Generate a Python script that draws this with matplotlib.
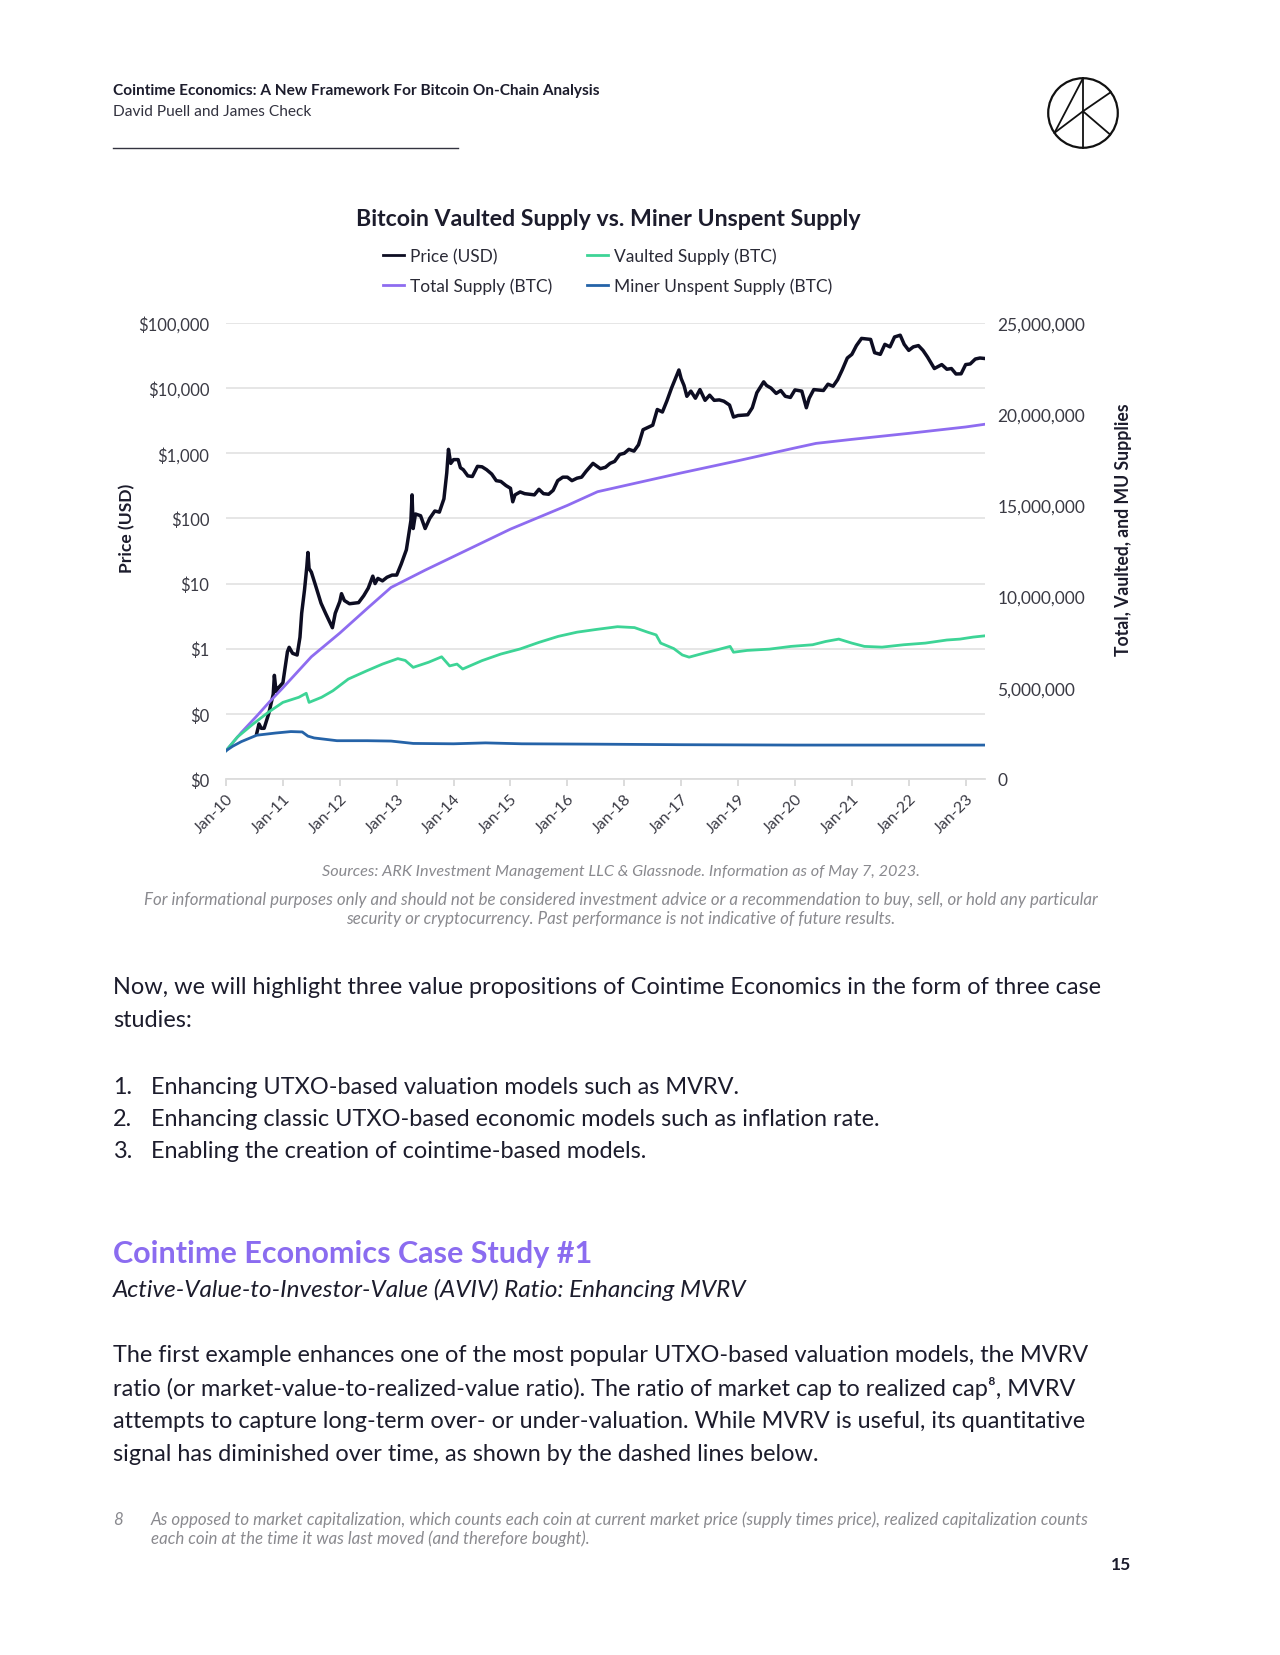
import matplotlib
matplotlib.use('Agg')
import matplotlib.pyplot as plt
from matplotlib.lines import Line2D
from matplotlib.patches import Circle
import matplotlib.ticker as mticker

plt.rcParams['font.family'] = ['Lato', 'DejaVu Sans']

W, H = 1280, 1656

# ---------------- data ----------------
price_t = [2010.54, 2010.58, 2010.62, 2010.67, 2010.75, 2010.83, 2010.85, 2010.88, 2010.92,
           2011.0, 2011.08, 2011.11, 2011.17, 2011.25, 2011.30, 2011.33, 2011.38, 2011.42, 2011.44,
           2011.46, 2011.50, 2011.58, 2011.67, 2011.75, 2011.83, 2011.87, 2011.92,
           2012.0, 2012.03, 2012.08, 2012.17, 2012.25, 2012.33, 2012.42, 2012.5, 2012.58, 2012.62,
           2012.67, 2012.75, 2012.83, 2012.92,
           2013.0, 2013.08, 2013.17, 2013.25, 2013.27, 2013.29, 2013.33, 2013.42, 2013.5, 2013.58,
           2013.67, 2013.75, 2013.83, 2013.88, 2013.91, 2013.95,
           2014.0, 2014.08, 2014.12, 2014.17, 2014.25, 2014.33, 2014.42, 2014.5, 2014.58, 2014.67,
           2014.75, 2014.83, 2014.92,
           2015.0, 2015.04, 2015.08, 2015.17, 2015.25, 2015.33, 2015.42, 2015.5, 2015.58, 2015.67,
           2015.75, 2015.83, 2015.92,
           2016.0, 2016.08, 2016.17, 2016.25, 2016.33, 2016.45, 2016.5, 2016.58, 2016.67, 2016.75,
           2016.83, 2016.92,
           2017.0, 2017.08, 2017.17, 2017.25, 2017.33, 2017.42, 2017.5, 2017.58, 2017.67, 2017.75,
           2017.83, 2017.96,
           2018.0, 2018.05, 2018.1, 2018.17, 2018.25, 2018.33, 2018.42, 2018.5, 2018.58, 2018.67,
           2018.75, 2018.85, 2018.92,
           2019.0, 2019.17, 2019.25, 2019.33, 2019.45, 2019.5, 2019.58, 2019.67, 2019.75, 2019.83,
           2019.92,
           2020.0, 2020.12, 2020.2, 2020.25, 2020.33, 2020.5, 2020.58, 2020.67, 2020.75, 2020.83,
           2020.92,
           2021.0, 2021.08, 2021.17, 2021.25, 2021.33, 2021.4, 2021.5, 2021.58, 2021.67, 2021.75,
           2021.85, 2021.92,
           2022.0, 2022.08, 2022.17, 2022.25, 2022.33, 2022.45, 2022.58, 2022.67, 2022.75, 2022.83,
           2022.92,
           2023.0, 2023.08, 2023.17, 2023.25, 2023.34]
price_usd = [0.05, 0.07, 0.06, 0.06, 0.10, 0.20, 0.39, 0.22, 0.25,
             0.30, 0.90, 1.05, 0.85, 0.80, 1.5, 3.5, 8.0, 18, 30,
             17, 15, 9, 5, 3.5, 2.5, 2.1, 3.5,
             5.3, 7, 5.5, 4.9, 5.0, 5.1, 6.5, 8.5, 13, 10,
             12, 11, 12.5, 13.5,
             13.5, 20, 33, 93, 230, 70, 117, 110, 70, 100,
             130, 125, 200, 500, 1150, 700,
             800, 800, 600, 560, 450, 440, 630, 620, 560, 480,
             380, 370, 320,
             290, 180, 230, 255, 240, 235, 230, 280, 240, 235,
             270, 380, 430,
             430, 380, 415, 430, 530, 700, 650, 580, 610, 700,
             750, 960,
             1000, 1150, 1080, 1350, 2300, 2500, 2700, 4700, 4300, 6400,
             10000, 19000,
             14000, 11000, 7500, 9000, 7000, 9500, 6500, 7800, 6500, 6600,
             6300, 5500, 3600,
             3800, 3900, 5000, 8500, 12500, 11000, 10000, 8300, 9200, 7500,
             7200,
             9400, 9000, 5000, 7000, 9500, 9200, 11500, 10700, 13500, 19000,
             29000,
             33000, 45000, 58000, 57000, 56000, 35000, 33000, 47000, 43000, 61000,
             65000, 47000,
             38000, 43000, 45000, 38000, 30000, 20000, 23000, 19500, 20000, 16500,
             16600,
             23000, 23500, 28000, 29000, 28500]

supply_t = [2010.0, 2010.27, 2010.54, 2010.77, 2011.0, 2011.5, 2012.0, 2012.5, 2012.9,
            2013.5, 2014.0, 2015.0, 2016.0, 2016.53, 2017.0, 2018.0, 2019.0, 2020.0, 2020.37,
            2021.0, 2022.0, 2023.0, 2023.34]
total_supply = [1.55e6, 2.55e6, 3.45e6, 4.25e6, 5.0e6, 6.7e6, 8.0e6, 9.4e6, 10.5e6,
                11.45e6, 12.2e6, 13.7e6, 15.0e6, 15.75e6, 16.08e6, 16.78e6, 17.45e6, 18.15e6, 18.4e6,
                18.62e6, 18.95e6, 19.3e6, 19.45e6]

vault_t = [2010.0, 2010.2, 2010.47, 2010.74, 2011.0, 2011.28, 2011.41, 2011.46, 2011.68, 2011.88,
           2012.15, 2012.48, 2012.75, 2013.02, 2013.15, 2013.29, 2013.56, 2013.79, 2013.93, 2014.06,
           2014.16, 2014.5, 2014.83, 2015.17, 2015.5, 2015.84, 2016.17, 2016.51, 2016.88, 2017.18,
           2017.41, 2017.56, 2017.64, 2017.87, 2018.02, 2018.14, 2018.4, 2018.63, 2018.86, 2018.92,
           2019.16, 2019.55, 2019.93, 2020.31, 2020.54, 2020.77, 2021.0, 2021.22, 2021.53, 2021.91,
           2022.29, 2022.67, 2022.9, 2023.13, 2023.34]
vaulted_supply = [1.55e6, 2.3e6, 3.0e6, 3.65e6, 4.2e6, 4.48e6, 4.7e6, 4.2e6, 4.48e6, 4.84e6,
                  5.48e6, 5.94e6, 6.3e6, 6.6e6, 6.5e6, 6.12e6, 6.4e6, 6.7e6, 6.2e6, 6.3e6,
                  6.03e6, 6.49e6, 6.85e6, 7.13e6, 7.49e6, 7.82e6, 8.05e6, 8.2e6, 8.35e6, 8.3e6,
                  8.05e6, 7.9e6, 7.45e6, 7.15e6, 6.8e6, 6.68e6, 6.9e6, 7.08e6, 7.27e6, 6.95e6,
                  7.05e6, 7.12e6, 7.27e6, 7.36e6, 7.54e6, 7.67e6, 7.45e6, 7.27e6, 7.23e6, 7.36e6,
                  7.45e6, 7.62e6, 7.67e6, 7.78e6, 7.85e6]

miner_t = [2010.0, 2010.12, 2010.27, 2010.54, 2010.87, 2011.14, 2011.34, 2011.44, 2011.55,
           2011.95, 2012.48, 2012.9, 2013.29, 2014.0, 2014.56, 2015.2, 2016.5, 2018.0, 2020.0,
           2022.0, 2023.34]
miner_unspent = [1.55e6, 1.8e6, 2.05e6, 2.4e6, 2.52e6, 2.6e6, 2.58e6, 2.35e6, 2.25e6,
                 2.1e6, 2.1e6, 2.08e6, 1.95e6, 1.93e6, 1.98e6, 1.93e6, 1.91e6, 1.88e6, 1.86e6,
                 1.86e6, 1.86e6]

xtick_years = [2010, 2011, 2012, 2013, 2014, 2015, 2016, 2017, 2018, 2019, 2020, 2021, 2022, 2023]
xtick_labels = ['Jan-10', 'Jan-11', 'Jan-12', 'Jan-13', 'Jan-14', 'Jan-15', 'Jan-16', 'Jan-18',
                'Jan-17', 'Jan-19', 'Jan-20', 'Jan-21', 'Jan-22', 'Jan-23']
price_ticks = [1e-2, 1e-1, 1, 10, 100, 1e3, 1e4, 1e5]
price_tick_labels = ['$0', '$0', '$1', '$10', '$100', '$1,000', '$10,000', '$100,000']
supply_ticks = [0, 5e6, 10e6, 15e6, 20e6, 25e6]
supply_tick_labels = ['0', '5,000,000', '10,000,000', '15,000,000', '20,000,000', '25,000,000']

C_PRICE = '#0d0d22'
C_TOTAL = '#8e6cf0'
C_VAULT = '#3dd496'
C_MINER = '#2563a8'
C_TEXT = '#1c1c2c'
C_GRAY = '#8a8a8f'


def fx(px):
    return px / W


def fy(py):
    return 1 - py / H


fig = plt.figure(figsize=(W / 100, H / 100), dpi=100)
fig.patch.set_facecolor('white')

# ---------------- page header ----------------
fig.text(fx(113), fy(91), 'Cointime Economics: A New Framework For Bitcoin On-Chain Analysis',
         fontsize=11.1, weight='bold', color=C_TEXT, ha='left', va='center')
fig.text(fx(113), fy(112), 'David Puell and James Check', fontsize=11.2, color='#333340',
         ha='left', va='center')
fig.add_artist(Line2D([fx(113), fx(458)], [fy(149), fy(149)], color='#333340', lw=1.0))

# logo
lax = fig.add_axes([fx(1083 - 40), fy(114 + 40), 80 / W, 80 / H])
lax.set_xlim(-1.15, 1.15)
lax.set_ylim(-1.15, 1.15)
lax.set_aspect('equal')
lax.axis('off')
lax.add_patch(Circle((0, 0), 1.0, fill=False, lw=1.6, color='#111'))
lk = dict(color='#111', lw=1.3)
lax.plot([0, 0], [1, -1], **lk)
lax.plot([0, -0.82], [1, -0.57], **lk)
lax.plot([-0.82, 0.0], [-0.57, 0.05], **lk)
lax.plot([0.0, 0.8], [0.05, 0.6], **lk)
lax.plot([0.0, 0.78], [0.05, -0.62], **lk)

# ---------------- chart ----------------
fig.text(fx(608), fy(220), 'Bitcoin Vaulted Supply vs. Miner Unspent Supply', fontsize=16.7,
         weight='bold', color=C_TEXT, ha='center', va='center')

ax = fig.add_axes([fx(226), fy(780), 759 / W, 456 / H])
ax.set_yscale('log')
ax.set_ylim(1e-2, 1e5)
ax.set_xlim(2010, 2023.34)
ax.plot(price_t, price_usd, color=C_PRICE, lw=2.5, solid_joinstyle='round')
ax.set_yticks(price_ticks)
ax.set_yticklabels(price_tick_labels)
ax.yaxis.set_minor_locator(mticker.NullLocator())
ax.grid(axis='y', color='#e4e4e4', lw=1.3)
ax.set_axisbelow(True)
for s in ['top', 'right', 'left']:
    ax.spines[s].set_visible(False)
ax.spines['bottom'].set_color('#dcdcdc')
ax.spines['bottom'].set_linewidth(1.3)
ax.tick_params(axis='y', length=0, pad=12, labelsize=12, labelcolor='#3a3a44')
ax.set_xticks(xtick_years)
ax.set_xticklabels(xtick_labels, rotation=45, ha='right', rotation_mode='anchor')
ax.tick_params(axis='x', length=5, width=1.2, color='#d6d6d6', pad=4, labelsize=11.5,
               labelcolor='#3a3a44')

ax2 = ax.twinx()
ax2.set_ylim(0, 25e6)
ax2.plot(supply_t, total_supply, color=C_TOTAL, lw=2.0)
ax2.plot(vault_t, vaulted_supply, color=C_VAULT, lw=2.0)
ax2.plot(miner_t, miner_unspent, color=C_MINER, lw=2.0)
ax2.set_yticks(supply_ticks)
ax2.set_yticklabels(supply_tick_labels)
for s in ax2.spines.values():
    s.set_visible(False)
ax2.tick_params(axis='y', length=0, pad=9, labelsize=12.5, labelcolor='#3a3a44')

fig.text(fx(127), fy(500 * 1.057), 'Price (USD)', rotation=90, fontsize=12.6, weight='bold',
         color=C_TEXT, ha='center', va='center')
fig.text(fx(1124), fy(530), 'Total, Vaulted, and MU Supplies', rotation=90, fontsize=12.7,
         weight='bold', color=C_TEXT, ha='center', va='center')

handles = [Line2D([], [], color=C_PRICE, lw=2), Line2D([], [], color=C_TOTAL, lw=2),
           Line2D([], [], color=C_VAULT, lw=2), Line2D([], [], color=C_MINER, lw=2)]
labels = ['Price (USD)', 'Total Supply (BTC)', 'Vaulted Supply (BTC)', 'Miner Unspent Supply (BTC)']
fig.legend(handles, labels, ncol=2, loc='center', bbox_to_anchor=(fx(608), fy(272)),
           frameon=False, fontsize=12.5, handlelength=1.2, handletextpad=0.35,
           columnspacing=2.0, labelspacing=0.75, labelcolor='#2a2a36')

fig.text(fx(621), fy(872), 'Sources: ARK Investment Management LLC & Glassnode. Information as of May 7, 2023.',
         fontsize=11.7, style='italic', color=C_GRAY, ha='center', va='center')
fig.text(fx(621), fy(900), 'For informational purposes only and should not be considered investment advice or a recommendation to buy, sell, or hold any particular',
         fontsize=12.2, style='italic', color=C_GRAY, ha='center', va='center')
fig.text(fx(621), fy(919), 'security or cryptocurrency. Past performance is not indicative of future results.',
         fontsize=12.2, style='italic', color=C_GRAY, ha='center', va='center')

# ---------------- body text ----------------
BODY = 16.9
fig.text(fx(113), fy(988), 'Now, we will highlight three value propositions of Cointime Economics in the form of three case',
         fontsize=BODY, color=C_TEXT, ha='left', va='center')
fig.text(fx(113), fy(1021), 'studies:', fontsize=BODY, color=C_TEXT, ha='left', va='center')

items = ['Enhancing UTXO-based valuation models such as MVRV.',
         'Enhancing classic UTXO-based economic models such as inflation rate.',
         'Enabling the creation of cointime-based models.']
for i, (yy, txt) in enumerate(zip([1087, 1119, 1152], items)):
    fig.text(fx(113), fy(yy), f'{i + 1}.', fontsize=BODY, color=C_TEXT, ha='left', va='center')
    fig.text(fx(151), fy(yy), txt, fontsize=BODY, color=C_TEXT, ha='left', va='center')

fig.text(fx(113), fy(1254), 'Cointime Economics Case Study #1', fontsize=22, weight='bold',
         color='#8b6cf0', ha='left', va='center')
fig.text(fx(113), fy(1290), 'Active-Value-to-Investor-Value (AVIV) Ratio: Enhancing MVRV', fontsize=17.5,
         style='italic', color=C_TEXT, ha='left', va='center')

para = ['The first example enhances one of the most popular UTXO-based valuation models, the MVRV',
        'ratio (or market-value-to-realized-value ratio). The ratio of market cap to realized cap\u2078, MVRV',
        'attempts to capture long-term over- or under-valuation. While MVRV is useful, its quantitative',
        'signal has diminished over time, as shown by the dashed lines below.']
for yy, txt in zip([1356, 1389, 1422, 1455], para):
    fig.text(fx(113), fy(yy), txt, fontsize=BODY, color=C_TEXT, ha='left', va='center')

FOOT = 12.2
fig.text(fx(113), fy(1520), '8', fontsize=FOOT, style='italic', color=C_GRAY, ha='left', va='center')
fig.text(fx(151), fy(1520), 'As opposed to market capitalization, which counts each coin at current market price (supply times price), realized capitalization counts',
         fontsize=FOOT, style='italic', color=C_GRAY, ha='left', va='center')
fig.text(fx(151), fy(1539), 'each coin at the time it was last moved (and therefore bought).',
         fontsize=FOOT, style='italic', color=C_GRAY, ha='left', va='center')

fig.text(fx(1131), fy(1565), '15', fontsize=12.5, weight='bold', color=C_TEXT, ha='right', va='center')

fig.savefig('out.png', dpi=100, facecolor='white')
